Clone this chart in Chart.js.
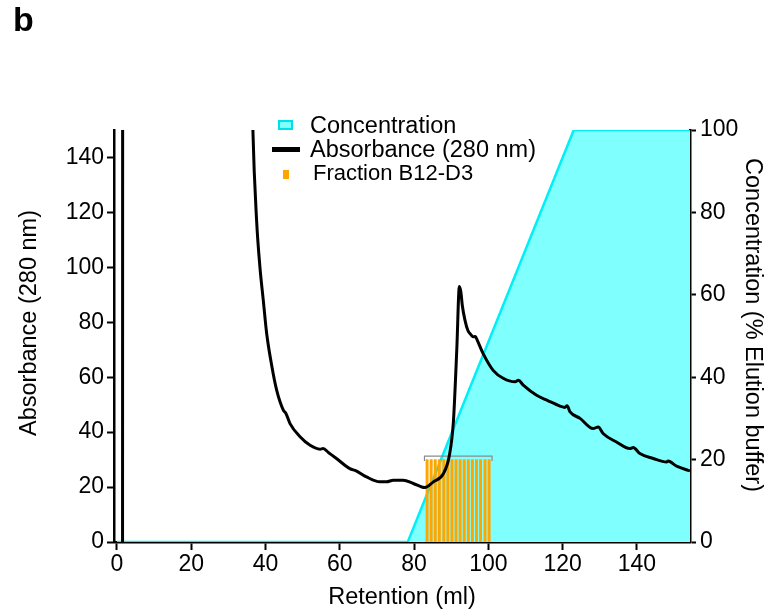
<!DOCTYPE html>
<html>
<head>
<meta charset="utf-8">
<script src="https://cdn.jsdelivr.net/npm/chart.js@4.4.0/dist/chart.umd.min.js"></script>
<style>
    body { margin: 0; background: #fff; }
    #wrap { position: relative; width: 768px; height: 614px; font-family: "Liberation Sans", Arial, sans-serif; }
    #panel { position: absolute; left: 13px; top: 0px; font-weight: bold; font-size: 34px; }
    #legend { position: absolute; left: 270px; top: 113px; font-size: 23.5px; line-height: 24px; color: #000; }
    #legend div { position: relative; padding-left: 40px; white-space: nowrap; }
    .sw { position: absolute; }
</style>
</head>
<body>
<div id="wrap">
    <canvas id="chromChart"></canvas>
    <div id="panel">b</div>
    <div id="legend">
        <div><span class="sw" style="left:8px;top:7px;width:11px;height:6px;background:#80ffff;border:2px solid #00e0e8"></span>Concentration</div>
        <div><span class="sw" style="left:2px;top:10px;width:28px;height:5px;background:#000"></span>Absorbance (280 nm)</div>
        <div style="font-size:22px;padding-left:43px"><span class="sw" style="left:13px;top:9px;width:6px;height:9px;background:#ffa500"></span>Fraction B12-D3</div>
    </div>
</div>
<script>
// absorbance trace (ml, mAU); null breaks the line where it runs off the top
const absRetention = [1.5, 1.6, null, 36.3, 36.6, 37.6, 38.5, 39.4, 40.3, 41.7, 43.0, 44.8, 45.5, 46.6, 49.3, 52.0, 54.7, 55.5, 57.0, 59.1, 62.7,
    64.4, 67.2, 70.8, 72.6, 74.4, 77.1, 79.8, 82.9, 85.2, 87.9, 89.5, 90.6, 91.5, 92.2, 92.6, 93.0, 93.7, 94.5, 95.3, 95.9,
    96.5, 97.0, 98.6, 101.3, 104.0, 107.2, 108.1, 109.4, 113.0, 116.0, 119.3, 120.6, 121.2, 122.0, 124.7, 128.2, 129.6, 130.9,
    134.5, 138.1, 139.0, 140.8, 144.4, 148.0, 148.4, 150.7, 153.8, 154.3];
const absorbance = [0, 600, null, 172, 150, 117, 100, 88, 76, 64, 55.3, 48, 46.8, 43.1, 38.3, 35.2, 33.8, 34.0, 32.5, 30.4, 26.7,
    25.9, 23.7, 21.9, 21.9, 22.5, 22.5, 21.3, 19.8, 21.9, 24.9, 31.5, 44, 70, 93, 91, 86, 80.8, 77, 75.5, 74.7,
    74.8, 73.5, 68.6, 62.5, 59.6, 58.3, 58.9, 57.1, 53.4, 51.5, 49.5, 49.0, 49.6, 47.4, 45.0, 41.3, 41.9, 39.5,
    36.4, 34.0, 34.4, 32.2, 30.4, 29.1, 29.5, 27.6, 26.1, 25.9];

// elution buffer gradient (ml, %)
const concRetention = [0, 78.3, 123.0, 154.3];
const concentration = [0, 0, 100, 100];

// collected fractions B12-D3
const fractionRetention = [83.5, 84.6, 85.7, 86.8, 88.0, 89.1, 90.2, 91.3, 92.4, 93.5, 94.6, 95.7, 96.8, 97.9, 99.1, 100.2];
const fractionHeight = [30, 30, 30, 30, 30, 30, 30, 30, 30, 30, 30, 30, 30, 30, 30, 30];

// bracket above the fractions
const bracketX = [82.8, 82.8, 101.0, 101.0];
const bracketY = [29.5, 31.3, 31.3, 29.5];

const xTicks = [0, 20, 40, 60, 80, 100, 120, 140];

const pts = (xs, ys) => xs.map((x, i) => (x === null ? { x: NaN, y: null } : { x: x, y: ys[i] }));

const FONT = '"Liberation Sans", Arial, sans-serif';
Chart.defaults.font.family = FONT;
Chart.defaults.color = '#000';

// axis titles drawn by hand so they sit where the original has them
const axisTitles = {
    id: 'axisTitles',
    afterDraw(chart) {
        const c = chart.ctx;
        c.save();
        c.fillStyle = '#000';
        c.font = '23.5px ' + FONT;
        c.textAlign = 'center';
        c.textBaseline = 'middle';
        c.fillText('Retention (ml)', 402, 598);
        c.translate(30, 323);
        c.rotate(-Math.PI / 2);
        c.fillText('Absorbance (280 nm)', 0, 0);
        c.restore();
        c.save();
        c.fillStyle = '#000';
        c.font = '23.5px ' + FONT;
        c.textAlign = 'center';
        c.textBaseline = 'middle';
        c.translate(752, 325);
        c.rotate(Math.PI / 2);
        c.fillText('Concentration (% Elution buffer)', 0, 0);
        c.restore();
    }
};

const axisBase = {
    border: { display: true, color: '#000', width: 2.5 },
    grid: { drawOnChartArea: false, drawTicks: true, color: '#000', tickWidth: 2, offset: false },
    ticks: { color: '#000', font: { size: 23 }, includeBounds: false }
};

new Chart(document.getElementById('chromChart').getContext('2d'), {
    type: 'line',
    data: {
        datasets: [
            {
                label: 'Absorbance (280 nm)',
                data: pts(absRetention, absorbance),
                yAxisID: 'y',
                borderColor: '#000',
                borderWidth: 3,
                pointRadius: 0,
                spanGaps: false,
                cubicInterpolationMode: 'monotone',
                fill: false,
                order: 1
            },
            {
                label: 'bracket',
                data: pts(bracketX, bracketY),
                yAxisID: 'y',
                borderColor: '#8a8a8a',
                borderWidth: 1.2,
                pointRadius: 0,
                fill: false,
                order: 2
            },
            {
                type: 'bar',
                label: 'Fraction B12-D3',
                data: pts(fractionRetention, fractionHeight),
                yAxisID: 'y',
                backgroundColor: '#ffa500',
                barThickness: 2.3,
                grouped: false,
                order: 3
            },
            {
                label: 'Concentration',
                data: pts(concRetention, concentration),
                yAxisID: 'y2',
                borderColor: '#00f0f5',
                backgroundColor: '#80ffff',
                borderWidth: 2.5,
                pointRadius: 0,
                fill: 'origin',
                order: 4
            }
        ]
    },
    options: {
        responsive: true,
        maintainAspectRatio: false,
        animation: false,
        layout: { padding: { top: 130, left: 0, right: 0, bottom: 0 } },
        plugins: {
            legend: { display: false },
            tooltip: { enabled: false }
        },
        scales: {
            x: {
                ...axisBase,
                type: 'linear',
                offset: false,
                min: -0.8,
                max: 154.3,
                grid: { ...axisBase.grid, tickLength: 8 },
                ticks: { ...axisBase.ticks, stepSize: 20, padding: 1, maxRotation: 0 },
                afterBuildTicks: s => { s.ticks = xTicks.map(v => ({ value: v })); },
                afterFit: s => { s.height = 72; }
            },
            y: {
                ...axisBase,
                position: 'left',
                min: 0,
                max: 150,
                grid: { ...axisBase.grid, tickLength: 7 },
                ticks: { ...axisBase.ticks, stepSize: 20, padding: 3 },
                afterFit: s => { s.width = 114; }
            },
            y2: {
                ...axisBase,
                position: 'right',
                min: 0,
                max: 100,
                grid: { ...axisBase.grid, tickLength: 6 },
                ticks: { ...axisBase.ticks, stepSize: 20, padding: 4 },
                afterFit: s => { s.width = 78; }
            }
        }
    },
    plugins: [axisTitles]
});
</script>
</body>
</html>
